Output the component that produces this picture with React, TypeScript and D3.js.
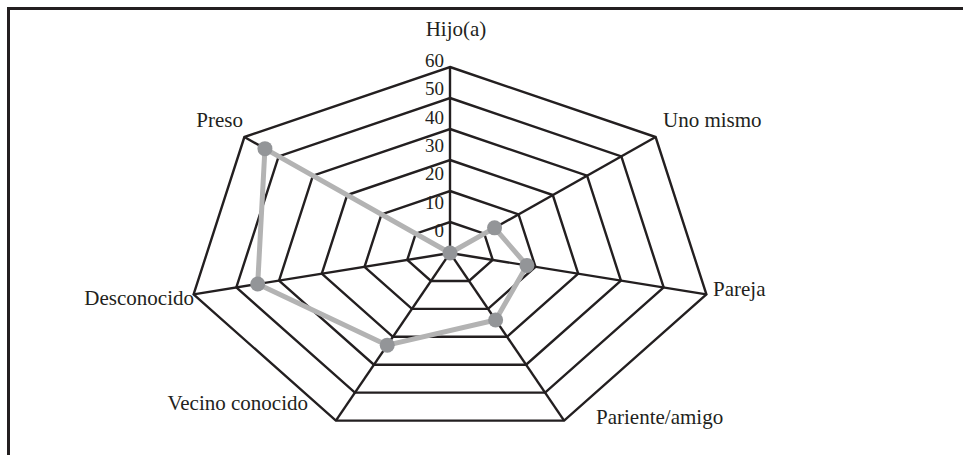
import React, { useEffect, useRef } from 'react';
import * as d3 from 'd3';

// categories, clockwise from the top
const categories = ['Hijo(a)', 'Uno mismo', 'Pareja', 'Pariente/amigo', 'Vecino conocido', 'Desconocido', 'Preso'];
const values = [0, 13, 18, 24, 33, 45, 54];
const ticks = [0, 10, 20, 30, 40, 50, 60];

const width = 963;
const height = 455;

export default function App() {
	const ref = useRef<SVGSVGElement | null>(null);

	useEffect(() => {
		const svg = d3.select(ref.current);
		svg.selectAll('*').remove();

		const cx = 450;
		const cy = 253;
		const n = categories.length;
		// chart is stretched horizontally
		const rX = d3.scaleLinear().domain([0, 60]).range([0, 263]);
		const rY = d3.scaleLinear().domain([0, 60]).range([0, 186]);
		const angle = d3.scaleLinear().domain([0, n]).range([0, 2 * Math.PI]);
		const px = (i: number, v: number) => cx + rX(v) * Math.sin(angle(i));
		const py = (i: number, v: number) => cy - rY(v) * Math.cos(angle(i));
		// tick labels sit a bit off the rings in the original
		const labelY = d3.scaleLinear().domain([0, 60]).range([237, 67]);

		const font = '"Liberation Serif", "DejaVu Serif", serif';
		const ink = '#231f20';

		// frame (top and left only)
		svg.append('path')
			.attr('d', `M8.5,${height} L8.5,8.5 L${width},8.5`)
			.attr('fill', 'none')
			.attr('stroke', ink)
			.attr('stroke-width', 3);

		const g = svg.append('g');
		const line = d3.line<[number, number]>().curve(d3.curveLinearClosed);

		// rings
		g.selectAll('.ring')
			.data(ticks.filter(t => t > 0))
			.enter()
			.append('path')
			.attr('class', 'ring')
			.attr('fill', 'none')
			.attr('stroke', ink)
			.attr('stroke-width', 2.4)
			.attr('stroke-linejoin', 'miter')
			.attr('d', t => line(d3.range(n).map(i => [px(i, t), py(i, t)] as [number, number])));

		// spokes
		g.selectAll('.spoke')
			.data(d3.range(n))
			.enter()
			.append('line')
			.attr('class', 'spoke')
			.attr('x1', cx)
			.attr('y1', cy)
			.attr('x2', i => px(i, 60))
			.attr('y2', i => py(i, 60))
			.attr('stroke', ink)
			.attr('stroke-width', 2.4);

		// tick labels
		g.selectAll('.tick')
			.data(ticks)
			.enter()
			.append('text')
			.attr('class', 'tick')
			.attr('x', 444)
			.attr('y', t => labelY(t))
			.attr('text-anchor', 'end')
			.attr('font-family', font)
			.attr('font-size', 19)
			.attr('fill', ink)
			.text(t => t);

		// category labels
		const labelPos = [
			{ x: 456, y: 36, anchor: 'middle' },
			{ x: 663, y: 127, anchor: 'start' },
			{ x: 713, y: 296, anchor: 'start' },
			{ x: 596, y: 424, anchor: 'start' },
			{ x: 308, y: 410, anchor: 'end' },
			{ x: 194, y: 305, anchor: 'end' },
			{ x: 243, y: 127, anchor: 'end' },
		];
		g.selectAll('.cat')
			.data(categories)
			.enter()
			.append('text')
			.attr('class', 'cat')
			.attr('x', (d, i) => labelPos[i].x)
			.attr('y', (d, i) => labelPos[i].y)
			.attr('text-anchor', (d, i) => labelPos[i].anchor)
			.attr('font-family', font)
			.attr('font-size', 21)
			.attr('fill', ink)
			.text(d => d);

		// series
		g.append('path')
			.attr('fill', 'none')
			.attr('stroke', '#b3b3b3')
			.attr('stroke-width', 5)
			.attr('stroke-linejoin', 'round')
			.attr('d', line(values.map((v, i) => [px(i, v), py(i, v)] as [number, number])));

		g.selectAll('.dot')
			.data(values)
			.enter()
			.append('circle')
			.attr('class', 'dot')
			.attr('cx', (v, i) => px(i, v))
			.attr('cy', (v, i) => py(i, v))
			.attr('r', 7.5)
			.attr('fill', '#939598');
	}, []);

	return (
		<svg
			ref={ref}
			width={width}
			height={height}
			style={{ position: 'absolute', left: 0, top: 0, display: 'block', background: '#fff' }}
		/>
	);
}
